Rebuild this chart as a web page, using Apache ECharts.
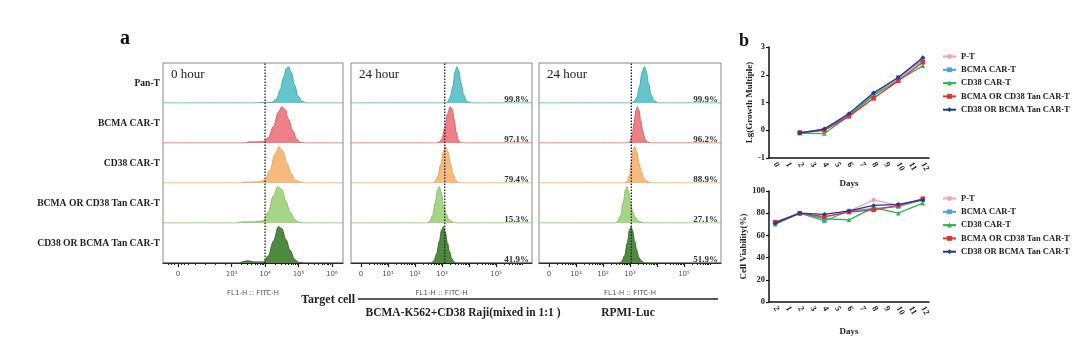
<!DOCTYPE html>
<html><head><meta charset="utf-8">
<script src="https://cdn.jsdelivr.net/npm/echarts@6/dist/echarts.min.js"></script>
<style>html,body{margin:0;padding:0;background:#fff}#c{width:1080px;height:340px}</style>
</head><body><div id="c"></div>
<script>
// ---------------- Panel a : flow cytometry histograms ----------------
const rowNames = ['Pan-T', 'BCMA CAR-T', 'CD38 CAR-T', 'BCMA OR CD38 Tan CAR-T', 'CD38 OR BCMA Tan CAR-T'];
const panelTitles = ['0 hour', '24 hour', '24 hour'];
const gateValues = [4.0, 3.1, 3.05];
const pctMixed = ['99.8%', '97.1%', '79.4%', '15.3%', '41.9%'];
const pctRPMI = ['99.9%', '96.2%', '88.9%', '27.1%', '51.9%'];
const tickVals0h = [1.4, 3, 4, 5, 6];
const tickLabels0h = ['0', '10³', '10⁴', '10⁵', '10⁶'];
const tickVals24h = [0, 1, 2, 3, 5];
const tickLabels24h = ['0', '10¹', '10²', '10³', '10⁵'];
const axisName = 'FL1-H :: FITC-H';

// histograms: [log10 position, normalised count]
const h0_PanT = [[0.95,0],[3.6,0],[3.9,0.01],[4.2,0.02],[4.35,0.12],[4.45,0.35],[4.55,0.7],[4.64,0.96],[4.7,1],[4.78,0.85],[4.88,0.5],[4.98,0.2],[5.1,0.05],[5.25,0],[6.33,0]];
const h0_BCMA = [[0.95,0],[3.4,0],[3.5,0.03],[3.7,0.03],[3.95,0.04],[4.1,0.15],[4.25,0.45],[4.4,0.85],[4.5,1],[4.6,0.92],[4.7,0.65],[4.82,0.35],[4.95,0.1],[5.05,0.02],[5.2,0],[6.33,0]];
const h0_CD38 = [[0.95,0],[3.3,0],[3.4,0.02],[3.8,0.03],[4.0,0.08],[4.15,0.35],[4.3,0.8],[4.42,1],[4.52,0.9],[4.65,0.55],[4.78,0.25],[4.9,0.08],[5.05,0.02],[5.2,0],[6.33,0]];
const h0_BorC = [[0.95,0],[3.15,0],[3.3,0.03],[3.7,0.03],[3.95,0.06],[4.1,0.3],[4.25,0.75],[4.38,1],[4.5,0.92],[4.62,0.6],[4.75,0.3],[4.88,0.1],[5.0,0.02],[5.15,0],[6.33,0]];
const h0_CorB = [[0.95,0],[3.25,0],[3.35,0.04],[3.5,0.06],[3.65,0.03],[3.95,0.03],[4.1,0.2],[4.25,0.6],[4.4,1],[4.5,0.95],[4.62,0.65],[4.75,0.35],[4.88,0.1],[5.0,0.02],[5.15,0],[6.33,0]];

const h24m_PanT = [[-0.37,0],[3.1,0],[3.2,0.03],[3.3,0.15],[3.4,0.45],[3.48,0.85],[3.55,1],[3.62,0.88],[3.7,0.55],[3.8,0.22],[3.9,0.06],[4.0,0.02],[4.1,0],[6.33,0]];
const h24m_BCMA = [[-0.37,0],[2.8,0],[2.9,0.03],[3.0,0.12],[3.1,0.4],[3.2,0.8],[3.3,1],[3.38,0.92],[3.45,0.65],[3.52,0.3],[3.6,0.08],[3.7,0.01],[3.8,0],[6.33,0]];
const h24m_CD38 = [[-0.37,0],[2.65,0],[2.75,0.05],[2.85,0.2],[2.95,0.5],[3.05,0.85],[3.13,1],[3.22,0.85],[3.3,0.55],[3.4,0.25],[3.5,0.08],[3.6,0.02],[3.7,0],[6.33,0]];
const h24m_BorC = [[-0.37,0],[2.45,0],[2.55,0.05],[2.65,0.2],[2.75,0.55],[2.83,0.9],[2.9,1],[2.97,0.85],[3.05,0.5],[3.15,0.25],[3.25,0.1],[3.35,0.04],[3.45,0.01],[3.55,0],[6.33,0]];
const h24m_CorB = [[-0.37,0],[2.6,0],[2.7,0.06],[2.8,0.25],[2.9,0.6],[2.98,0.9],[3.05,1],[3.12,0.85],[3.2,0.55],[3.28,0.3],[3.36,0.12],[3.45,0.03],[3.55,0],[6.33,0]];

const h24r_PanT = [[-0.37,0],[3.05,0],[3.15,0.04],[3.25,0.15],[3.35,0.45],[3.45,0.85],[3.53,1],[3.6,0.88],[3.68,0.55],[3.78,0.22],[3.88,0.07],[3.98,0.03],[4.05,0],[6.37,0]];
const h24r_BCMA = [[-0.37,0],[2.9,0],[3.0,0.05],[3.08,0.2],[3.15,0.55],[3.22,0.9],[3.27,1],[3.33,0.9],[3.4,0.6],[3.48,0.3],[3.56,0.1],[3.65,0.02],[3.75,0],[6.37,0]];
const h24r_CD38 = [[-0.37,0],[2.8,0],[2.9,0.05],[2.98,0.2],[3.05,0.55],[3.12,0.92],[3.17,1],[3.25,0.85],[3.33,0.55],[3.42,0.3],[3.52,0.12],[3.62,0.05],[3.75,0.01],[3.85,0],[6.37,0]];
const h24r_BorC = [[-0.37,0],[2.45,0],[2.55,0.05],[2.65,0.2],[2.75,0.55],[2.83,0.9],[2.89,1],[2.95,0.85],[3.02,0.55],[3.1,0.3],[3.2,0.15],[3.3,0.06],[3.42,0.02],[3.55,0],[6.37,0]];
const h24r_CorB = [[-0.37,0],[2.6,0],[2.7,0.05],[2.8,0.2],[2.9,0.55],[2.98,0.9],[3.04,1],[3.1,0.88],[3.17,0.6],[3.25,0.35],[3.33,0.15],[3.42,0.06],[3.52,0.01],[3.6,0],[6.37,0]];

// ---------------- Panel b : growth and viability ----------------
const lineNames = ['P-T', 'BCMA CAR-T', 'CD38 CAR-T', 'BCMA OR CD38 Tan CAR-T', 'CD38 OR BCMA Tan CAR-T'];
const dayCategories = ['0','1','2','3','4','5','6','7','8','9','10','11','12'];
const dayLabelsBottom = ['2','1','2','3','4','5','6','7','8','9','10','11','12'];
const growthDays = [2, 4, 6, 8, 10, 12];
const growthPT   = [-0.08, 0.02, 0.55, 1.25, 1.85, 2.50];
const growthBCMA = [-0.10, 0.00, 0.55, 1.30, 1.90, 2.55];
const growthCD38 = [-0.10, -0.12, 0.52, 1.25, 1.80, 2.32];
const growthBorC = [-0.08, 0.00, 0.50, 1.15, 1.78, 2.45];
const growthCorB = [-0.10, 0.05, 0.60, 1.35, 1.90, 2.62];
const viabDays = [0, 2, 4, 6, 8, 10, 12];
const viabPT   = [71, 80, 76, 82, 92, 87, 93];
const viabBCMA = [71, 80, 73, 82, 84, 86, 92];
const viabCD38 = [70, 80, 75, 74, 85, 80, 89];
const viabBorC = [72, 80, 77, 81, 83, 87, 93];
const viabCorB = [71, 80, 79, 82, 87, 88, 92];

// ---------------- styling / layout ----------------
const SERIF = '"Liberation Serif", "DejaVu Serif", serif';
const SANS = '"DejaVu Sans", "Liberation Sans", sans-serif';
const histFill = ['#63c6ca', '#ef7f87', '#f7b97c', '#a5d585', '#4e8a3e'];
const histLine = ['#41aeb3', '#e0606a', '#f0a059', '#86c25c', '#356f2a'];
const lineColors = ['#f4a3b6', '#4b9fe2', '#2db34a', '#e5302d', '#24379a'];
const lineSymbols = ['circle', 'rect', 'triangle', 'rect', 'diamond'];

const panels = [
  { left: 163, width: 180, min: 0.95, max: 6.33, tv: tickVals0h, tl: tickLabels0h, hists: [h0_PanT,h0_BCMA,h0_CD38,h0_BorC,h0_CorB], pct: null, major: [1.4,3,4,5,6] },
  { left: 351, width: 181, min: -0.37, max: 6.33, tv: tickVals24h, tl: tickLabels24h, hists: [h24m_PanT,h24m_BCMA,h24m_CD38,h24m_BorC,h24m_CorB], pct: pctMixed, major: [0,1,2,3,4,5] },
  { left: 539, width: 182, min: -0.37, max: 6.37, tv: tickVals24h, tl: tickLabels24h, hists: [h24r_PanT,h24r_BCMA,h24r_CD38,h24r_BorC,h24r_CorB], pct: pctRPMI, major: [0,1,2,3,4,5] }
];
const BOX_TOP = 63, ROW_H = 40;

const grid = [], xAxis = [], yAxis = [], series = [], graphics = [];

panels.forEach((p, pi) => {
  const minor = [];
  const startDec = pi === 0 ? 3 : 0;
  for (let n = startDec; n < 6; n++) for (let k = 2; k <= 9; k++) {
    const v = n + Math.log10(k);
    if (v < p.max) minor.push(v);
  }
  if (pi === 0) [1.1,1.2,1.3,1.5,1.6,1.7,1.9,2.2,2.5,2.8].forEach(v => minor.push(v));

  const gBox = grid.length;
  grid.push({ left: p.left, top: BOX_TOP, width: p.width, height: ROW_H * 5, show: true, borderColor: '#8a8a8a', borderWidth: 1 });
  const xMain = xAxis.length;
  xAxis.push({
    type: 'value', gridIndex: gBox, min: p.min, max: p.max, position: 'bottom',
    splitLine: { show: false },
    axisLine: { show: true, onZero: false, lineStyle: { color: '#222', width: 1.2 } },
    axisTick: { show: true, length: 4, customValues: p.major, lineStyle: { color: '#222', width: 1.2 } },
    axisLabel: { show: true, customValues: p.tv, margin: 8, fontSize: 7, fontFamily: SANS, color: '#555',
      formatter: v => { const i = p.tv.findIndex(t => Math.abs(t - v) < 1e-6); return i >= 0 ? p.tl[i] : ''; } },
    name: axisName, nameLocation: 'middle', nameGap: 27,
    nameTextStyle: { fontSize: 7, fontFamily: SANS, color: '#555' }
  });
  xAxis.push({
    type: 'value', gridIndex: gBox, min: p.min, max: p.max, position: 'bottom',
    splitLine: { show: false }, axisLine: { show: false, onZero: false },
    axisTick: { show: true, length: 2, customValues: minor, lineStyle: { color: '#222', width: 1 } },
    axisLabel: { show: false }
  });
  const yBox = yAxis.length;
  yAxis.push({ type: 'value', gridIndex: gBox, min: 0, max: 1, show: false });
  series.push({
    type: 'line', xAxisIndex: xMain, yAxisIndex: yBox, data: [[gateValues[pi], 0], [gateValues[pi], 1]],
    symbol: 'none', z: 10, silent: true,
    lineStyle: { type: [1.5, 1.5], color: '#222', width: 1.3 }
  });

  p.hists.forEach((h, ri) => {
    const g = grid.length;
    grid.push({ left: p.left, top: BOX_TOP + ROW_H * ri, width: p.width, height: ROW_H, show: false });
    const xi = xAxis.length, yi = yAxis.length;
    xAxis.push({ type: 'value', gridIndex: g, min: p.min, max: p.max, show: false });
    yAxis.push({ type: 'value', gridIndex: g, min: 0, max: 1.1, show: false });
    series.push({
      type: 'line', xAxisIndex: xi, yAxisIndex: yi, data: h, symbol: 'none',
      smooth: 0.35, smoothMonotone: 'x', silent: true, z: 3,
      lineStyle: { color: histLine[ri], width: 1 },
      areaStyle: { color: histFill[ri], opacity: 1 }
    });
    if (p.pct) {
      graphics.push({ type: 'text', x: p.left + p.width - 3, y: BOX_TOP + ROW_H * (ri + 1) - 3,
        style: { text: p.pct[ri], font: 'bold 9px ' + SERIF, fill: '#333', align: 'right', verticalAlign: 'middle' }, z: 20 });
    }
  });

  graphics.push({ type: 'text', x: p.left + 8, y: 75,
    style: { text: panelTitles[pi], font: '13px ' + SERIF, fill: '#222', align: 'left', verticalAlign: 'middle' } });
});

rowNames.forEach((n, i) => {
  graphics.push({ type: 'text', x: 160, y: BOX_TOP + ROW_H * i + 21,
    style: { text: n, font: 'bold 9.6px ' + SERIF, fill: '#222', align: 'right', verticalAlign: 'middle' } });
});
graphics.push({ type: 'text', x: 125, y: 39, style: { text: 'a', font: 'bold 20px ' + SERIF, fill: '#111', align: 'center', verticalAlign: 'middle' } });
graphics.push({ type: 'text', x: 744, y: 41, style: { text: 'b', font: 'bold 18px ' + SERIF, fill: '#111', align: 'center', verticalAlign: 'middle' } });
graphics.push({ type: 'text', x: 355, y: 300, style: { text: 'Target cell', font: 'bold 12px ' + SERIF, fill: '#222', align: 'right', verticalAlign: 'middle' } });
graphics.push({ type: 'line', shape: { x1: 358, y1: 299, x2: 718, y2: 299 }, style: { stroke: '#222', lineWidth: 1.5 } });
graphics.push({ type: 'text', x: 463, y: 313, style: { text: 'BCMA-K562+CD38 Raji(mixed in 1:1 )', font: 'bold 11.5px ' + SERIF, fill: '#222', align: 'center', verticalAlign: 'middle' } });
graphics.push({ type: 'text', x: 628, y: 313, style: { text: 'RPMI-Luc', font: 'bold 11.5px ' + SERIF, fill: '#222', align: 'center', verticalAlign: 'middle' } });

// ---------------- panel b charts ----------------
const axisTxt = { fontFamily: SERIF, fontWeight: 'bold', fontSize: 8.5, color: '#222' };
function lineChart(top, yMin, yMax, yInt, yName, yNameGap, labels, nameGap) {
  const g = grid.length;
  grid.push({ left: 769, top: top, width: 160, height: 111, show: false });
  const xi = xAxis.length, yi = yAxis.length;
  xAxis.push({
    type: 'category', gridIndex: g, data: dayCategories, boundaryGap: true,
    axisLine: { onZero: false, lineStyle: { color: '#111', width: 1.5 } },
    axisTick: { alignWithLabel: true, length: 3, lineStyle: { color: '#111', width: 1.2 } },
    axisLabel: Object.assign({ interval: 0, rotate: -60, margin: 5, formatter: (v, i) => labels[i] }, axisTxt),
    name: 'Days', nameLocation: 'middle', nameGap: nameGap,
    nameTextStyle: { fontFamily: SERIF, fontWeight: 'bold', fontSize: 9, color: '#222' }
  });
  yAxis.push({
    type: 'value', gridIndex: g, min: yMin, max: yMax, interval: yInt,
    splitLine: { show: false },
    axisLine: { show: true, onZero: false, lineStyle: { color: '#111', width: 1.5 } },
    axisTick: { show: true, length: 3, lineStyle: { color: '#111', width: 1.2 } },
    axisLabel: Object.assign({ margin: 4 }, axisTxt),
    name: yName, nameLocation: 'middle', nameGap: yNameGap,
    nameTextStyle: { fontFamily: SERIF, fontWeight: 'bold', fontSize: 9, color: '#222' }
  });
  return [xi, yi];
}
const [gx1, gy1] = lineChart(47, -1, 3, 1, 'Lg(Growth Multiple)', 14, dayCategories, 21);
const [gx2, gy2] = lineChart(191, 0, 100, 20, 'Cell Viability(%)', 21, dayLabelsBottom, 25);

const growthSets = [growthPT, growthBCMA, growthCD38, growthBorC, growthCorB];
const viabSets = [viabPT, viabBCMA, viabCD38, viabBorC, viabCorB];
lineNames.forEach((n, i) => {
  const common = { type: 'line', name: n, symbol: lineSymbols[i], symbolSize: 4.5, color: lineColors[i],
    lineStyle: { width: 1.3, color: lineColors[i] }, itemStyle: { color: lineColors[i] }, z: 5 + i };
  series.push(Object.assign({}, common, { xAxisIndex: gx1, yAxisIndex: gy1,
    data: growthDays.map((d, k) => [d, growthSets[i][k]]) }));
  series.push(Object.assign({}, common, { xAxisIndex: gx2, yAxisIndex: gy2,
    data: viabDays.map((d, k) => [d, viabSets[i][k]]) }));
});

const legendCommon = { orient: 'vertical', left: 937, itemWidth: 13, itemHeight: 6, itemGap: 4.3,
  textStyle: { fontFamily: SERIF, fontWeight: 'bold', fontSize: 8.5, color: '#222' }, data: lineNames, selectedMode: false };

const chart = echarts.init(document.getElementById('c'), null, { renderer: 'canvas' });
chart.setOption({
  animation: false,
  backgroundColor: '#fff',
  grid, xAxis, yAxis, series,
  legend: [Object.assign({ top: 47 }, legendCommon), Object.assign({ top: 189 }, legendCommon)],
  graphic: { elements: graphics }
});
</script></body></html>
